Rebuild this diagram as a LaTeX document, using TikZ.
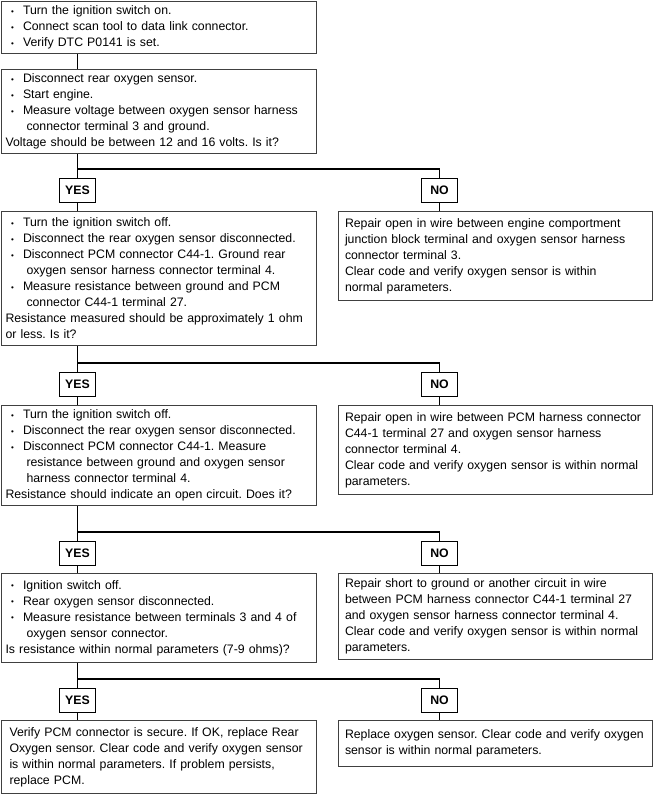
\documentclass[tikz,border=0pt]{standalone}
\usepackage{fontspec}
\setmainfont{Liberation Sans}
\newcommand\boxfont{\fontsize{12.3}{16}\selectfont\frenchspacing\hyphenpenalty=10000\exhyphenpenalty=10000}
\newcommand\bulitem{\makebox[17.5pt][l]{\hspace{5.5pt}\raisebox{0.5pt}{\fontsize{8}{8}\selectfont •}}}
\newcommand\contline{\hspace*{21pt}}
\tikzset{qbox/.style={draw=black!75, line width=1pt, anchor=north west, text width=307pt, inner xsep=4pt, inner ysep=2pt, align=left, font=\boxfont}, fixbox/.style={draw=black!75, line width=1pt, anchor=north west, text width=301pt, inner xsep=6.5pt, inner ysep=2pt, align=left, font=\boxfont}, ans/.style={draw, line width=1pt, font=\bfseries\boxfont, minimum width=36pt, minimum height=24pt, inner sep=0pt}, wire/.style={line width=1pt}, bar/.style={line width=1.8pt}}

\begin{document}
\begin{tikzpicture}[x=1pt,y=-1pt]
\useasboundingbox (0,0) rectangle (654,795);
% checks on the left
\node[qbox, minimum height=52pt] (q1) at (1,1) {\bulitem Turn the ignition switch on.\\ \bulitem Connect scan tool to data link connector.\\ \bulitem Verify DTC P0141 is set.};
\node[qbox, minimum height=84pt] (q2) at (1,69) {\bulitem Disconnect rear oxygen sensor.\\ \bulitem Start engine.\\ \bulitem Measure voltage between oxygen sensor harness\\ \contline connector terminal 3 and ground.\\ Voltage should be between 12 and 16 volts. Is it?};
\node[qbox, minimum height=134pt] (q3) at (1,211) {\bulitem Turn the ignition switch off.\\ \bulitem Disconnect the rear oxygen sensor disconnected.\\ \bulitem Disconnect PCM connector C44-1. Ground rear\\ \contline oxygen sensor harness connector terminal 4.\\ \bulitem Measure resistance between ground and PCM\\ \contline connector C44-1 terminal 27.\\ Resistance measured should be approximately 1 ohm\\ or less. Is it?};
\node[qbox, minimum height=100pt] (q4) at (1,405) {\bulitem Turn the ignition switch off.\\ \bulitem Disconnect the rear oxygen sensor disconnected.\\ \bulitem Disconnect PCM connector C44-1. Measure\\ \contline resistance between ground and oxygen sensor\\ \contline harness connector terminal 4.\\ Resistance should indicate an open circuit. Does it?};
\node[qbox, minimum height=89pt] (q5) at (1,573) {\bulitem Ignition switch off.\\ \bulitem Rear oxygen sensor disconnected.\\ \bulitem Measure resistance between terminals 3 and 4 of\\ \contline oxygen sensor connector.\\ Is resistance within normal parameters (7-9 ohms)?};
\node[fixbox, text width=299pt, inner xsep=8pt, minimum height=73pt] (q6) at (1,720) {Verify PCM connector is secure. If OK, replace Rear\\ Oxygen sensor. Clear code and verify oxygen sensor\\ is within normal parameters. If problem persists,\\ replace PCM.};
% repairs on the right
\node[fixbox, minimum height=89pt] (f1) at (338,211) {Repair open in wire between engine comportment\\ junction block terminal and oxygen sensor harness\\ connector terminal 3.\\ Clear code and verify oxygen sensor is within\\ normal parameters.};
\node[fixbox, minimum height=89pt] (f2) at (338,405) {Repair open in wire between PCM harness connector\\ C44-1 terminal 27 and oxygen sensor harness\\ connector terminal 4.\\ Clear code and verify oxygen sensor is within normal\\ parameters.};
\node[fixbox, minimum height=86pt] (f3) at (338,573) {Repair short to ground or another circuit in wire\\ between PCM harness connector C44-1 terminal 27\\ and oxygen sensor harness connector terminal 4.\\ Clear code and verify oxygen sensor is within normal\\ parameters.};
\node[fixbox, minimum height=46pt] (f4) at (338,720) {Replace oxygen sensor. Clear code and verify oxygen\\ sensor is within normal parameters.};
% answers
\foreach \j/\y in {A/190,B/384,C/553,D/700}{
  \node[ans] (yes\j) at (77.5,\y) {YES};
  \node[ans] (no\j) at (439.5,\y) {NO};
  \coordinate (j\j) at (77.5,\y-21);
}
\draw[wire] (q1.south -| yesA) -- (q2.north -| yesA);
\foreach \j/\up/\dl/\dr in {A/q2/q3/f1,B/q3/q4/f2,C/q4/q5/f3,D/q5/q6/f4}{
  \draw[wire] (\up.south -| yes\j) -- (j\j) -- (yes\j.north) (yes\j.south) -- (yes\j.south |- \dl.north) (no\j.south) -- (no\j.south |- \dr.north);
  \draw[bar] (j\j) -- (j\j -| no\j);
  \draw[wire] (j\j -| no\j) -- (no\j.north);
}
\end{tikzpicture}
\end{document}
